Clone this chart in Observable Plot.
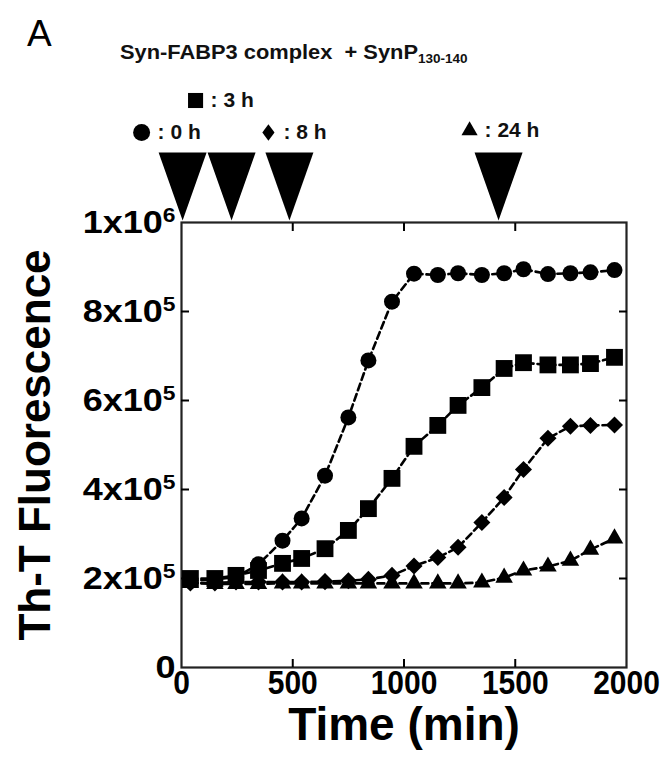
<!DOCTYPE html>
<html><head><meta charset="utf-8">
<script src="https://cdn.jsdelivr.net/npm/d3@7"></script>
<script src="https://cdn.jsdelivr.net/npm/@observablehq/plot@0.6"></script>
<style>
body{margin:0;background:#fff;}
#wrap{position:relative;width:664px;height:762px;}
#panel{position:absolute;left:27px;top:15px;font:37px "Liberation Sans Narrow","Liberation Sans",sans-serif;color:#000;line-height:1;}
#title{position:absolute;left:120px;top:41px;font:bold 21px "Liberation Sans",sans-serif;color:#111;white-space:pre;line-height:1;transform:scaleX(1.04);transform-origin:left top;}
#title sub{font-size:13px;vertical-align:-4px;}
</style>
</head><body>
<div id="wrap">
<div id="chart"></div>
<div id="panel">A</div>
<div id="title">Syn-FABP3 complex  + SynP<sub>130-140</sub></div>
</div>
<script>
// ---- data ----
const times = [40,150,245,346,454,540,645,750,840,946,1045,1152,1243,1350,1450,1537,1647,1748,1838,1946];
const fluor0h = [195e3,198e3,203e3,232e3,285e3,335e3,431e3,562e3,690e3,822e3,885e3,882e3,886e3,882e3,886e3,895e3,884e3,886e3,888e3,893e3];
const fluor3h = [200e3,200e3,207e3,218e3,234e3,245e3,267e3,308e3,357e3,425e3,497e3,544e3,589e3,629e3,672e3,685e3,680e3,680e3,683e3,697e3];
const fluor8h = [190e3,190e3,192e3,192e3,192e3,192e3,193e3,195e3,198e3,207e3,228e3,247e3,270e3,326e3,382e3,445e3,515e3,542e3,544e3,545e3];
const fluor24h = [190e3,188e3,188e3,188e3,189e3,189e3,189e3,189e3,189e3,189e3,189e3,189e3,189e3,191e3,202e3,218e3,227e3,240e3,265e3,290e3];
const seriesNames = ["0 h","3 h","8 h","24 h"];
const additionTimes = [5,225,485,1425];
const xTicks = [0,500,1000,1500,2000];
const xInnerTicks = [500,1000,1500];
const yTicks = [0,2e5,4e5,6e5,8e5,1e6];
const yInnerTicks = [2e5,4e5,6e5,8e5];
const yTickLabels = ["0","2x10^5","4x10^5","6x10^5","8x10^5","1x10^6"];
const xLabel = "Time (min)";
const yLabel = "Th-T Fluorescence";

// ---- build ----
const allSeries = [fluor0h,fluor3h,fluor8h,fluor24h];
const rows = [];
allSeries.forEach((arr,i)=>arr.forEach((v,j)=>rows.push({series:seriesNames[i],k:i,t:times[j],f:v})));

const diamond = {draw(ctx,size){const h=Math.sqrt(size/2);ctx.moveTo(0,-h);ctx.lineTo(h,0);ctx.lineTo(0,h);ctx.lineTo(-h,0);ctx.closePath();}};
const narrowDiamond = {draw(ctx,size){const h=Math.sqrt(size/2);ctx.moveTo(0,-h);ctx.lineTo(h*0.75,0);ctx.lineTo(0,h);ctx.lineTo(-h*0.75,0);ctx.closePath();}};
const bigArrow = {draw(ctx){ctx.moveTo(0,0);ctx.lineTo(-24,-68);ctx.lineTo(24,-68);ctx.closePath();}};
const symbols = ["circle","square",diamond,"triangle"];
const radii = [8,9.5,6.8,6.5];
const legendSymbols = ["circle","square",narrowDiamond,"triangle"];
const legendRadii = [8.5,8.5,6.5,6];
const legendDx = [-41,-36,-21,-29];
const legendDy = [-90,-122,-90,-92];
const legendTextDx = [-25,-21,-6,-14];

const F = '"Liberation Sans", Arial, sans-serif';
const marks = [
  Plot.frame({stroke:"#222",strokeWidth:2.2}),
  Plot.line(rows,{x:"t",y:"f",z:"series",stroke:"#000",strokeWidth:2.6,strokeDasharray:"7,4"}),
];
symbols.forEach((s,i)=>{
  marks.push(Plot.dot(rows.filter(d=>d.k===i),{x:"t",y:"f",symbol:s,r:radii[i],fill:"#000",stroke:null}));
});
marks.push(Plot.dot(additionTimes,{x:d=>d,y:()=>yTicks[yTicks.length-1],symbol:bigArrow,fill:"#000",dy:-2}));
additionTimes.forEach((t,i)=>{
  marks.push(Plot.dot([t],{x:d=>d,y:()=>yTicks[yTicks.length-1],symbol:legendSymbols[i],r:legendRadii[i],fill:"#000",dx:legendDx[i],dy:legendDy[i]}));
  marks.push(Plot.text([t],{x:d=>d,y:()=>yTicks[yTicks.length-1],text:()=>": "+seriesNames[i],textAnchor:"start",dx:legendTextDx[i],dy:legendDy[i],fontSize:21,fontWeight:"bold",fontFamily:F,fill:"#111",ariaLabel:"legend-text"}));
});
marks.push(
  Plot.axisX({ticks:xTicks,anchor:"bottom",tickSize:0,tickPadding:4,fontSize:30,fontWeight:"bold",fontFamily:F,label:null,tickFormat:d=>String(d)}),
  Plot.axisX({ticks:xInnerTicks,anchor:"bottom",tickSize:-8,strokeWidth:2,tickFormat:()=>"",label:null}),
  Plot.axisX({ticks:xInnerTicks,anchor:"top",tickSize:-8,strokeWidth:2,tickFormat:()=>"",label:null}),
  Plot.axisY({ticks:yTicks,anchor:"left",tickSize:0,tickPadding:6,fontSize:30,fontWeight:"bold",fontFamily:F,label:null,tickFormat:d=>yTickLabels[yTicks.indexOf(d)]}),
  Plot.axisY({ticks:yInnerTicks,anchor:"left",tickSize:-8,strokeWidth:2,tickFormat:()=>"",label:null}),
  Plot.axisY({ticks:yInnerTicks,anchor:"right",tickSize:-8,strokeWidth:2,tickFormat:()=>"",label:null}),
  Plot.text([xLabel],{text:d=>d,frameAnchor:"bottom",lineAnchor:"middle",dy:58,fontSize:46,fontWeight:"bold",fontFamily:F,fill:"#000",ariaLabel:"x-title"}),
  Plot.text([yLabel],{text:d=>d,frameAnchor:"left",textAnchor:"middle",lineAnchor:"middle",dx:-146,rotate:-90,fontSize:44,fontWeight:"bold",fontFamily:F,fill:"#000",ariaLabel:"y-title"})
);

const chart = Plot.plot({
  width:664,height:762,
  marginLeft:181,marginRight:38,marginTop:222,marginBottom:95,
  x:{domain:[0,2000]},
  y:{domain:[0,1e6]},
  style:{fontFamily:F,background:"#fff",overflow:"visible"},
  marks
});
document.getElementById("chart").appendChild(chart);

// superscripts in y tick labels
d3.select(chart).selectAll('g[aria-label="y-axis tick label"] text').each(function(){
  const s = this.textContent;
  if (s.includes("^")) {
    const [base,exp] = s.split("^");
    const sel = d3.select(this);
    sel.text(base);
    sel.append("tspan").attr("dy","-0.55em").attr("font-size","19px").text(exp);
  }
});
// horizontal stretching of bold labels (the reference lettering is wide)
function num(v){const n=parseFloat(v);return isFinite(n)?n:0;}
function stretch(node,sx,sy){
  const t = node.getAttribute("transform")||"";
  const x = num(node.getAttribute("x")), y = num(node.getAttribute("y"));
  node.setAttribute("transform",`${t} translate(${x},${y}) scale(${sx},${sy}) translate(${-x},${-y})`);
}
d3.select(chart).selectAll('g[aria-label="y-axis tick label"] text').each(function(){stretch(this,1.2,1.05);});
d3.select(chart).selectAll('g[aria-label="x-axis tick label"] text').each(function(){stretch(this,1.0,1.08);});
d3.select(chart).selectAll('g[aria-label="x-title"] text').each(function(){stretch(this,1.24,1.05);});
d3.select(chart).selectAll('g[aria-label="y-title"] text').each(function(){stretch(this,1.05,1.1);});
d3.select(chart).selectAll('g[aria-label="legend-text"] text').each(function(){stretch(this,1.1,1);});
</script>
</body></html>
